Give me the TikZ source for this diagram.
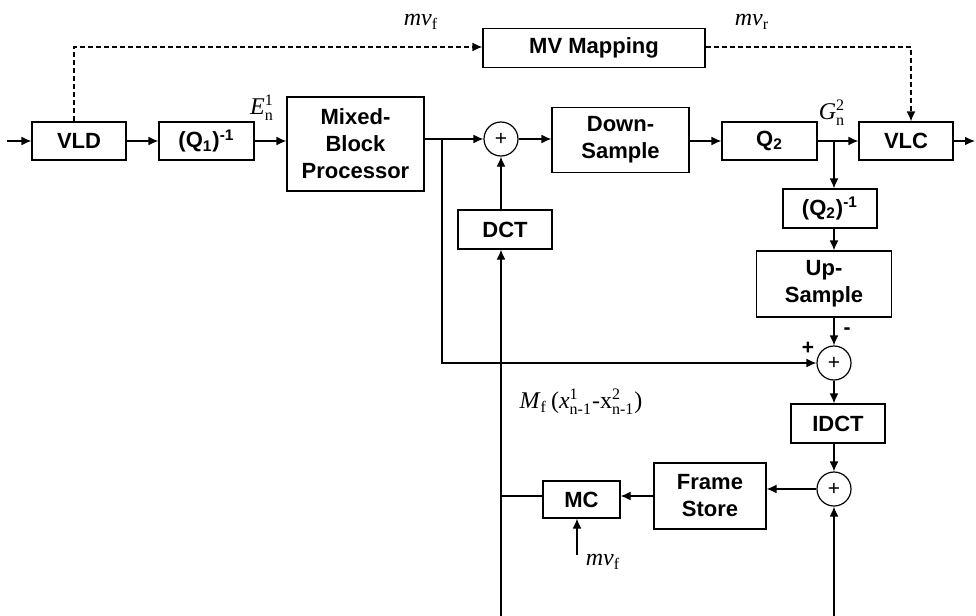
\documentclass[tikz,border=0pt]{standalone}
\usepackage{fontspec}
\usepackage{amsmath}
\setmainfont{Liberation Serif}
\setsansfont{Liberation Sans}
\usetikzlibrary{arrows.meta}
\begin{document}
\begin{tikzpicture}[x=0.5pt,y=-0.5pt,
  line width=0.6pt,
  >={Latex[length=5pt,width=4.4pt]},
  blk/.style={draw,font=\sffamily\bfseries\fontsize{11}{13.5}\selectfont,align=center,inner sep=0pt},
  sumc/.style={draw,circle,minimum size=17pt,inner sep=0pt,font=\sffamily\fontsize{10.5}{12}\selectfont},
  lbl/.style={font=\fontsize{12}{14}\selectfont,inner sep=0pt},
  pm/.style={font=\sffamily\bfseries\fontsize{10.5}{12}\selectfont,inner sep=0pt},
  dsh/.style={dash pattern=on 2.5pt off 1.5pt}]
\useasboundingbox (0,0) rectangle (976,616);

% blocks
\node[blk,minimum width=47pt,minimum height=19pt] (vld) at (79,141) {VLD};
\node[blk,minimum width=47.5pt,minimum height=19pt] (q1i) at (206.5,141) {(Q\textsubscript{1})\textsuperscript{-1}};
\node[blk,minimum width=68.5pt,minimum height=47pt] (mbp) at (355.5,144) {Mixed-\\Block\\Processor};
\node[sumc] (s1) at (501,139) {+};
\node[blk,minimum width=68.5pt,minimum height=32.5pt] (ds) at (620.5,140) {Down-\\Sample};
\node[blk,minimum width=47.5pt,minimum height=19pt] (q2) at (769.5,141) {Q\textsubscript{2}};
\node[blk,minimum width=47pt,minimum height=19pt] (vlc) at (906,141) {VLC};
\node[blk,minimum width=111pt,minimum height=19.5pt] (mv) at (594,48) {MV Mapping};
\node[blk,minimum width=47pt,minimum height=19.5pt] (q2i) at (830,208.5) {(Q\textsubscript{2})\textsuperscript{-1}};
\node[blk,minimum width=67.5pt,minimum height=33pt] (us) at (824,284) {Up-\\Sample};
\node[sumc] (s2) at (834,363) {+};
\node[blk,minimum width=47pt,minimum height=19.5pt] (idct) at (838,423.5) {IDCT};
\node[sumc] (s3) at (834,489) {+};
\node[blk,minimum width=56pt,minimum height=33pt] (fs) at (710,496) {Frame\\Store};
\node[blk,minimum width=38.5pt,minimum height=18.5pt] (mc) at (581.5,499.5) {MC};
\node[blk,minimum width=47pt,minimum height=19.5pt] (dct) at (505,229.5) {DCT};

% helper coordinates
\coordinate (in) at (7,141);
\coordinate (out) at (975,141);
\coordinate (b1) at (442,139);
\coordinate (b2) at (834,141);
\coordinate (fbl) at (501,616);
\coordinate (fbr) at (834,616);
\coordinate (j) at (501,496);
\coordinate (d1) at (74,47);
\coordinate (d2) at (911,47);
\coordinate (mvin) at (577,555);

% connectors
\draw[->] (in) -- (vld);
\draw[->] (vld) -- (q1i);
\draw[->] (q1i.east) -- (mbp.west |- q1i.east);
\draw[->] (mbp.east |- s1) -- (s1);
\draw[->] (s1) -- (ds.west |- s1);
\draw[->] (ds.east |- q2) -- (q2);
\draw[->] (q2) -- (vlc);
\draw[->] (vlc) -- (out);
\draw[->] (b2) -- (b2 |- q2i.north);
\draw[->] (b2 |- q2i.south) -- (b2 |- us.north);
\draw[->] (b2 |- us.south) -- (s2);
\draw[->] (s2) -- (s2 |- idct.north);
\draw[->] (s2 |- idct.south) -- (s3);
\draw[->] (s3) -- (fs.east |- s3);
\draw[->] (fs.west) -- (mc.east |- fs.west);
\draw (mc.west |- fs.west) -- (j);
\draw[->] (fbl) -- (dct.south -| fbl);
\draw[->] (dct.north -| s1) -- (s1);
\draw[->] (fbr) -- (s3);
\draw[->] (b1) |- (s2);
\draw[->] (mvin) -- (mvin |- mc.south);
\draw[dsh,->] (vld.north -| d1) -- (d1) -- (mv.west |- d1);
\draw[dsh,->] (mv.east |- d2) -- (d2) -- (d2 |- vlc.north);

% labels
\node[lbl] (lmvf) at (421,22) {\textit{mv}$_{\text{f}}$};
\node[lbl] (lmvr) at (752,22) {\textit{mv}$_{\text{r}}$};
\node[lbl] (le) at (262,108) {\textit{E}$^{\text{1}}_{\text{n}}$};
\node[lbl] (lg) at (832,113) {\textit{G}$^{\text{2}}_{\text{n}}$};
\node[lbl] (lm) at (581,402) {\textit{M}$_{\text{f}}$\,(\textit{x}$^{\text{1}}_{\text{n-1}}$-x$^{\text{2}}_{\text{n-1}}$)};
\node[lbl] (lmv2) at (603,562) {\textit{mv}$_{\text{f}}$};
\node[pm] (lminus) at (847,331) {-};
\node[pm] (lplus) at (808,348) {+};
\end{tikzpicture}
\end{document}
